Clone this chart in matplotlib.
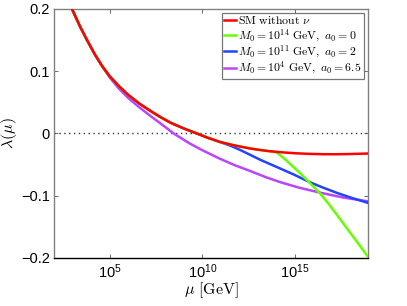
import numpy as np
import matplotlib
matplotlib.use("Agg")
import matplotlib.pyplot as plt
from matplotlib.ticker import FixedLocator, NullLocator

plt.rcParams['mathtext.fontset'] = 'cm'
plt.rcParams['font.family'] = ['Liberation Sans', 'DejaVu Sans']

# log10(mu/GeV) and lambda values
red_logmu = [2.0, 2.5, 2.97, 3.4, 3.78, 4.2, 4.6, 5.0, 5.5, 6.0, 6.6, 7.16, 7.7, 8.3,
             9.0, 9.7, 10.3, 10.93, 11.7, 12.55, 13.1, 13.63, 14.17, 15.0, 15.8,
             16.5, 17.2, 18.0, 18.92]
red_lam = [0.27, 0.232, 0.2, 0.172, 0.150, 0.127, 0.108, 0.092, 0.076, 0.062, 0.048,
           0.037, 0.027, 0.017, 0.008, 0.0, -0.007, -0.0135, -0.019, -0.024, -0.0265,
           -0.0285, -0.030, -0.0318, -0.0328, -0.0333, -0.0334, -0.0330, -0.0322]

purple_logmu = [2.0, 2.5, 2.97, 3.4, 3.78, 4.2, 4.6, 5.0, 5.5, 6.0, 6.6, 7.16, 7.7,
                8.45, 9.31, 10.0, 10.9, 11.74, 12.55, 13.4, 14.17, 15.2, 16.33, 17.6, 18.92]
purple_lam = [0.27, 0.232, 0.2, 0.172, 0.150, 0.127, 0.108, 0.090, 0.072, 0.057, 0.042,
              0.029, 0.017, 0.0, -0.016, -0.027, -0.040, -0.051, -0.060, -0.070, -0.078,
              -0.087, -0.095, -0.103, -0.109]

blue_logmu = [2.0, 2.5, 2.97, 3.4, 3.78, 4.2, 4.6, 5.0, 5.5, 6.0, 6.6, 7.16, 7.7, 8.3,
              9.0, 9.7, 10.3, 10.93, 11.5, 12.0, 12.55, 13.1, 13.63, 14.17, 15.0, 15.74,
              16.5, 17.3, 18.1, 18.92]
blue_lam = [0.27, 0.232, 0.2, 0.172, 0.150, 0.127, 0.108, 0.092, 0.076, 0.062, 0.048,
            0.037, 0.027, 0.017, 0.008, 0.0, -0.007, -0.0135, -0.0195, -0.026, -0.034,
            -0.042, -0.049, -0.056, -0.067, -0.0777, -0.087, -0.096, -0.104, -0.1115]

green_logmu = [2.0, 2.5, 2.97, 3.4, 3.78, 4.2, 4.6, 5.0, 5.5, 6.0, 6.6, 7.16, 7.7, 8.3,
               9.0, 9.7, 10.3, 10.93, 11.7, 12.55, 13.1, 13.63, 14.0, 14.4, 14.73, 15.2,
               15.74, 16.33, 16.8, 17.23, 17.7, 18.13, 18.5, 18.92]
green_lam = [0.27, 0.232, 0.2, 0.172, 0.150, 0.127, 0.108, 0.092, 0.076, 0.062, 0.048,
             0.037, 0.027, 0.017, 0.008, 0.0, -0.007, -0.0135, -0.019, -0.024, -0.0265,
             -0.0285, -0.0305, -0.040, -0.049, -0.062, -0.078, -0.096, -0.113, -0.130,
             -0.149, -0.166, -0.181, -0.198]

labels = [r'$\mathrm{SM\ without}\ \nu$',
          r'$M_0 = 10^{14}\ \mathrm{GeV},\ a_0 = 0$',
          r'$M_0 = 10^{11}\ \mathrm{GeV},\ a_0 = 2$',
          r'$M_0 = 10^{4}\ \mathrm{GeV},\ a_0 = 6.5$']
colors = ['#ff0000', '#66ff00', '#2244ff', '#bb44ff']

xticks_exp = [5, 10, 15]
yticks = [-0.2, -0.1, 0, 0.1, 0.2]
ytick_labels = ['\u22120.2', '\u22120.1', '0', '0.1', '0.2']

fig = plt.figure(figsize=(4.07, 3.06), dpi=100)
ax = fig.add_axes([0.1327, 0.157, 0.7713, 0.8136])

lw = 1.8
l_purple, = ax.plot(10.0 ** np.array(purple_logmu), purple_lam, color=colors[3], lw=lw, zorder=2)
l_blue, = ax.plot(10.0 ** np.array(blue_logmu), blue_lam, color=colors[2], lw=lw, zorder=3)
l_green, = ax.plot(10.0 ** np.array(green_logmu), green_lam, color=colors[1], lw=lw, zorder=4)
l_red, = ax.plot(10.0 ** np.array(red_logmu), red_lam, color=colors[0], lw=lw, zorder=5)

ax.axhline(0, color='#333333', lw=1.0, ls=(0, (1, 2.5)), zorder=1)

ax.set_xscale('log')
ax.set_xlim(1e2, 10 ** 18.92)
ax.set_ylim(-0.2, 0.2)
ax.xaxis.set_major_locator(FixedLocator([10.0 ** e for e in xticks_exp]))
ax.xaxis.set_minor_locator(NullLocator())
ax.set_xticklabels([r'$\mathregular{10^{%d}}$' % e for e in xticks_exp])
ax.set_yticks(yticks)
ax.set_yticklabels(ytick_labels)

ax.tick_params(which='both', direction='in', top=True, right=True, length=3,
               labelsize=10.5, width=0.6, color='#555555', pad=3)
for side in ['left', 'right', 'top']:
    ax.spines[side].set_color('#808080')
    ax.spines[side].set_linewidth(1.0)
ax.spines['bottom'].set_color('black')
ax.spines['bottom'].set_linewidth(1.0)

ax.set_xlabel(r'$\mu\ [\mathrm{GeV}]$', fontsize=11.5, labelpad=0)
ax.set_ylabel(r'$\lambda(\mu)$', fontsize=11.5, va='center')
ax.yaxis.set_label_coords(-0.142, 0.5)

leg = ax.legend([l_red, l_green, l_blue, l_purple], labels, loc='upper right',
                fontsize=8.5, frameon=True, fancybox=False, handlelength=1.05,
                handletextpad=0.15, borderpad=0.2, labelspacing=0.0,
                borderaxespad=0.35)
leg.get_frame().set_edgecolor('#555555')
leg.get_frame().set_linewidth(0.9)

fig.savefig('out.png', dpi=100)
